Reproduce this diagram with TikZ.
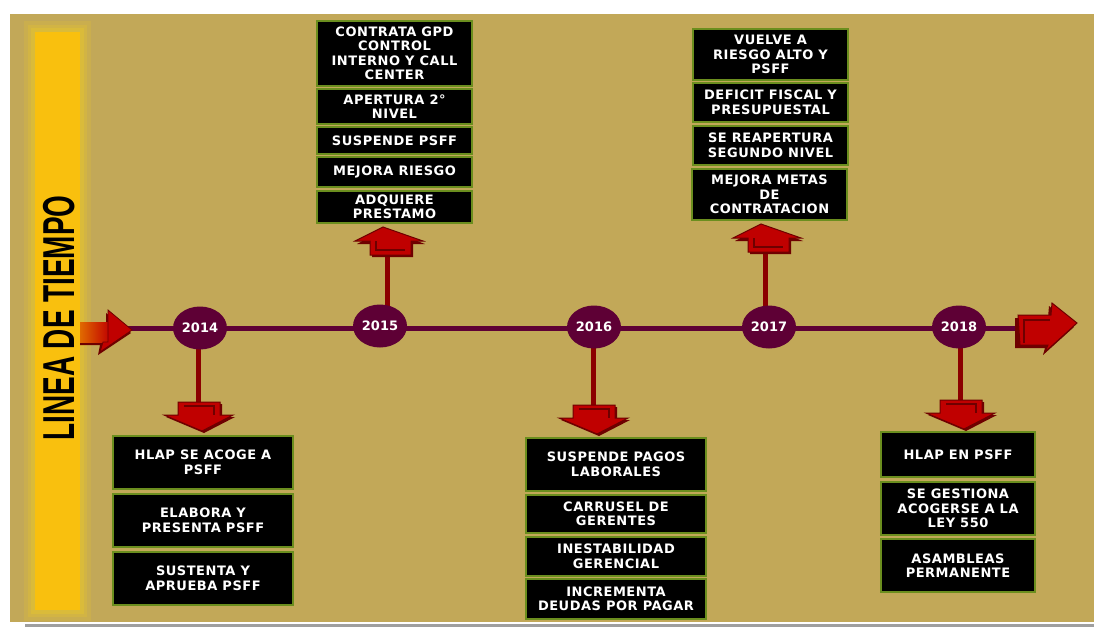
\documentclass[tikz,border=0pt]{standalone}
\usepackage{fontspec}
\setmainfont{DejaVu Sans}
\newfontfamily\boxfont[LetterSpace=4.0]{DejaVu Sans}
\newfontfamily\titlefont{Liberation Sans}
\usetikzlibrary{shapes.geometric}
\definecolor{tanbg}{HTML}{C2A858}
\definecolor{baryellow}{HTML}{F9C00E}
\definecolor{glowyellow}{HTML}{E2C232}
\definecolor{maroon}{HTML}{5E0035}
\definecolor{stemred}{HTML}{8B0000}
\definecolor{arrred}{HTML}{C00000}
\definecolor{arrdark}{HTML}{6E0000}
\definecolor{boxgreen}{HTML}{6B8E1E}
\definecolor{arrorange}{HTML}{E06A00}
\pgfdeclarelayer{bg}
\pgfdeclarelayer{mid}
\pgfsetlayers{bg,mid,main}
\tikzset{
  evbox/.style={draw=boxgreen, line width=1.6pt, fill=black, text=white,
    font=\boxfont\bfseries\fontsize{13}{14.5}\selectfont, align=center, inner sep=0pt},
  yearnode/.style={ellipse, fill=maroon, minimum width=54pt, minimum height=43pt,
    inner sep=0pt, text=white, font=\bfseries\fontsize{13}{14}\selectfont},
  timeline/.style={draw=maroon, line width=5pt},
  stemline/.style={draw=stemred, line width=5pt},
  downarr/.pic={
    \fill[arrdark] (-18,2) -- (24,2) -- (24,15) -- (37,15) -- (6,31) -- (-32,15) -- (-18,15) -- cycle;
    \fill[arrred, draw=arrdark, line width=1pt] (-20,0) -- (22,0) -- (22,13) -- (35,13) -- (4,29) -- (-34,13) -- (-20,13) -- cycle;
    \draw[arrdark, line width=1.8pt] (-14,4) -- (16,4) -- (16,13);
  },
  uparr/.pic={
    \fill[arrdark] (-15,2) -- (26,2) -- (26,-11) -- (38,-11) -- (-2,-26) -- (-30,-11) -- (-15,-11) -- cycle;
    \fill[arrred, draw=arrdark, line width=1pt] (-17,0) -- (24,0) -- (24,-14) -- (36,-14) -- (-4,-28) -- (-32,-14) -- (-17,-14) -- cycle;
    \draw[arrdark, line width=1.8pt] (-11,-14) -- (-11,-5) -- (18,-5);
  }
}
\begin{document}
\begin{tikzpicture}[x=1pt,y=-1pt]
\useasboundingbox (0,0) rectangle (1094,629);
\begin{pgfonlayer}{bg}
  \fill[white] (0,0) rectangle (1094,629);
  \fill[tanbg] (10,14) rectangle (1094,622);
  \draw[gray!75, line width=3pt] (25,625) -- (1094,625);
  \fill[glowyellow, opacity=0.25] (24,21) rectangle (91,621);
  \fill[glowyellow, opacity=0.35] (28,25) rectangle (87,617);
  \fill[glowyellow, opacity=0.55] (31,28) rectangle (84,614);
  \fill[baryellow] (35,32) rectangle (80,610);
\end{pgfonlayer}
\node[rotate=90, text=black, inner sep=0pt] (title) at (59,318)
  {\scalebox{0.625}[1]{\titlefont\bfseries\fontsize{44.7}{46}\selectfont LINEA DE TIEMPO}};

% timeline
\coordinate (tlL) at (110,328);
\coordinate (tlR) at (1030,328);
\begin{pgfonlayer}{mid}
  \draw[timeline] (tlL) -- (tlR);
\end{pgfonlayer}

% year nodes
\node[yearnode] (y2014) at (200,328) {2014};
\node[yearnode] (y2015) at (380,326) {2015};
\node[yearnode] (y2016) at (594,327) {2016};
\node[yearnode] (y2017) at (769,327) {2017};
\node[yearnode] (y2018) at (959,327) {2018};

% arrow anchors
\coordinate (a2014) at (198,402);
\coordinate (a2015) at (387,255);
\coordinate (a2016) at (593,405);
\coordinate (a2017) at (765,252);
\coordinate (a2018) at (960,400);

\begin{pgfonlayer}{mid}
  \draw[stemline] (a2014 |- y2014) -- (a2014);
  \draw[stemline] (a2015 |- y2015) -- (a2015);
  \draw[stemline] (a2016 |- y2016) -- (a2016);
  \draw[stemline] (a2017 |- y2017) -- (a2017);
  \draw[stemline] (a2018 |- y2018) -- (a2018);
\end{pgfonlayer}

\pic at (a2014) {downarr};
\pic at (a2016) {downarr};
\pic at (a2018) {downarr};
\pic at (a2015) {uparr};
\pic at (a2017) {uparr};

% left arrow
\fill[arrdark] (80,325) -- (106,325) -- (106,313) -- (131,333) -- (98,355) -- (100,345) -- (80,345) -- cycle;
\shade[left color=arrorange, right color=arrred] (80,322) rectangle (110,342);
\fill[arrred, draw=arrdark, line width=0.8pt] (108,342) -- (108,310) -- (132,330) -- (100,352) -- (103,342) -- cycle;
% right arrow
\fill[arrdark] (1015,318) -- (1048,318) -- (1049,306) -- (1074,327) -- (1043,355) -- (1045,348) -- (1015,348) -- cycle;
\fill[arrred, draw=arrdark, line width=1pt] (1018,315) -- (1051,315) -- (1052,303) -- (1077,323) -- (1045,352) -- (1048,345) -- (1020,345) -- cycle;
\draw[arrdark, line width=1.8pt] (1024,343) -- (1024,320) -- (1050,320);

% 2015 boxes
\node[evbox, minimum width=155pt, minimum height=65pt] (b15a) at (394.5,53.5) {CONTRATA GPD\\CONTROL\\INTERNO Y CALL\\CENTER};
\node[evbox, minimum width=155pt, minimum height=35pt] (b15b) at (394.5,106.5) {APERTURA 2°\\NIVEL};
\node[evbox, minimum width=155pt, minimum height=27pt] (b15c) at (394.5,140.5) {SUSPENDE PSFF};
\node[evbox, minimum width=155pt, minimum height=30pt] (b15d) at (394.5,172) {MEJORA RIESGO};
\node[evbox, minimum width=155pt, minimum height=32pt] (b15e) at (394.5,207) {ADQUIERE\\PRESTAMO};

% 2017 boxes
\node[evbox, minimum width=155pt, minimum height=51pt] (b17a) at (770.5,54.5) {VUELVE A\\RIESGO ALTO Y\\PSFF};
\node[evbox, minimum width=155pt, minimum height=39pt] (b17b) at (770.5,102.5) {DEFICIT FISCAL Y\\PRESUPUESTAL};
\node[evbox, minimum width=155pt, minimum height=39pt] (b17c) at (770.5,145.5) {SE REAPERTURA\\SEGUNDO NIVEL};
\node[evbox, minimum width=155pt, minimum height=51pt] (b17d) at (769.5,194.5) {MEJORA METAS\\DE\\CONTRATACION};

% 2014 boxes
\node[evbox, minimum width=180pt, minimum height=53pt] (b14a) at (203,462.5) {HLAP SE ACOGE A\\PSFF};
\node[evbox, minimum width=180pt, minimum height=53pt] (b14b) at (203,520.5) {ELABORA Y\\PRESENTA PSFF};
\node[evbox, minimum width=180pt, minimum height=53pt] (b14c) at (203,578.5) {SUSTENTA Y\\APRUEBA PSFF};

% 2016 boxes
\node[evbox, minimum width=180pt, minimum height=53pt] (b16a) at (616,464.5) {SUSPENDE PAGOS\\LABORALES};
\node[evbox, minimum width=180pt, minimum height=38pt] (b16b) at (616,514) {CARRUSEL DE\\GERENTES};
\node[evbox, minimum width=180pt, minimum height=39pt] (b16c) at (616,556.5) {INESTABILIDAD\\GERENCIAL};
\node[evbox, minimum width=180pt, minimum height=40pt] (b16d) at (616,599) {INCREMENTA\\DEUDAS POR PAGAR};

% 2018 boxes
\node[evbox, minimum width=154pt, minimum height=45pt] (b18a) at (958,454.5) {HLAP EN PSFF};
\node[evbox, minimum width=154pt, minimum height=53pt] (b18b) at (958,508.5) {SE GESTIONA\\ACOGERSE A LA\\LEY 550};
\node[evbox, minimum width=154pt, minimum height=53pt] (b18c) at (958,565.5) {ASAMBLEAS\\PERMANENTE};
\end{tikzpicture}
\end{document}
